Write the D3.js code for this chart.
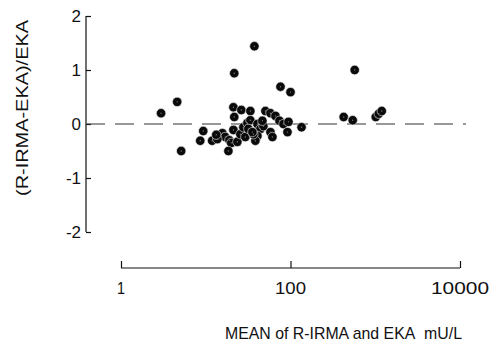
<!DOCTYPE html>
<html>
<head>
<meta charset="utf-8">
<script src="https://cdn.jsdelivr.net/npm/d3@7/dist/d3.min.js"></script>
<style>
  html, body { margin: 0; padding: 0; background: #fff; }
  svg { display: block; }
  text { font-family: "Liberation Sans", Arial, sans-serif; fill: #111; }
</style>
</head>
<body>
<svg id="chart" width="491" height="349"></svg>
<script>
// Mean of the two methods (mU/L)
const meanValues = [
  2.97, 4.60, 5.13, 9.34, 8.61, 11.9, 15.7, 17.0, 19.0, 20.0,
  18.5, 21.7, 21.2, 26.3, 33.6, 21.7, 21.2, 23.6, 25.6, 27.8,
  31.0, 33.6, 29.3, 37.5, 31.8, 40.7, 44.2, 47.9, 40.7, 38.5,
  50.6, 58.0, 66.4, 74.1, 82.6, 94.7, 92.1, 58.0, 61.2, 76.2,
  100, 135, 424, 542, 572, 1014, 1100, 1194, 36.5, 13.7,
  13.3, 46.6, 35.5
];
// Relative difference (R-IRMA - EKA) / EKA
const relDiff = [
  0.20, 0.41, -0.50, -0.13, -0.31, -0.31, -0.17, -0.24, -0.30, -0.35,
  -0.50, 0.94, 0.31, 0.26, 0.24, 0.13, -0.11, -0.33, -0.19, -0.06,
  0.02, 0.07, -0.24, 1.44, -0.09, 0.00, -0.09, -0.04, -0.22, -0.31,
  0.24, 0.20, 0.15, 0.06, 0.00, 0.04, -0.15, -0.15, -0.24, 0.69,
  0.59, -0.06, 0.13, 0.07, 1.00, 0.13, 0.19, 0.24, -0.19, -0.28,
  -0.20, 0.06, -0.15
];
const xTicks = [1, 100, 10000];
const xTickLabels = ["1", "100", "10000"];
const yTicks = [-2, -1, 0, 1, 2];
const yTickLabels = ["-2", "-1", "0", "1", "2"];

const svg = d3.select("#chart");

const x = d3.scaleLog().domain([1, 10000]).range([121, 460]);
const y = d3.scaleLinear().domain([-2, 2]).range([232, 16]);

// Y axis: ticks point inward
const yAxisX = 86;
const yAxis = d3.axisRight(y)
  .tickValues(yTicks)
  .tickSize(5)
  .tickFormat(() => "");
const gy = svg.append("g").attr("transform", `translate(${yAxisX},0)`).call(yAxis);
gy.select(".domain").attr("d", `M0,${y(2)}V${y(-2)}`).attr("stroke", "#111").attr("stroke-width", 1.2);
gy.selectAll(".tick line").attr("stroke", "#111").attr("stroke-width", 1.2);

svg.append("g").selectAll("text")
  .data(yTicks)
  .join("text")
  .attr("x", yAxisX - 5)
  .attr("y", d => y(d))
  .attr("dy", "0.36em")
  .attr("text-anchor", "end")
  .attr("font-size", 17)
  .text((d, i) => yTickLabels[i]);

// X axis: ticks point upward, detached below the plot
const xAxisY = 268;
const xAxis = d3.axisTop(x)
  .tickValues(xTicks)
  .tickSize(7)
  .tickFormat(() => "");
const gx = svg.append("g").attr("transform", `translate(0,${xAxisY})`).call(xAxis);
gx.select(".domain").attr("d", `M${x(1)},0H${x(10000)}`).attr("stroke", "#111").attr("stroke-width", 1.2);
gx.selectAll(".tick line").attr("stroke", "#111").attr("stroke-width", 1.2);

const xLabelWidths = [8, 31, 58];
svg.append("g").selectAll("text")
  .data(xTicks)
  .join("text")
  .attr("x", d => x(d))
  .attr("y", 294)
  .attr("text-anchor", "middle")
  .attr("font-size", 16.5)
  .attr("textLength", (d, i) => xLabelWidths[i])
  .attr("lengthAdjust", "spacingAndGlyphs")
  .text((d, i) => xTickLabels[i]);

// Zero reference line
svg.append("line")
  .attr("x1", yAxisX).attr("x2", 466)
  .attr("y1", y(0)).attr("y2", y(0))
  .attr("stroke", "#333")
  .attr("stroke-width", 1.1)
  .attr("stroke-dasharray", "19,10");

// Points: solid dark discs with a thin light rim
const pts = meanValues.map((m, i) => ({ m, d: relDiff[i] }));
const gp = svg.append("g");
gp.selectAll("circle.pt")
  .data(pts)
  .join("circle")
  .attr("class", "pt")
  .attr("cx", p => x(p.m))
  .attr("cy", p => y(p.d))
  .attr("r", 4.7)
  .attr("fill", "#0a0a0a")
  .attr("stroke", "#eee")
  .attr("stroke-width", 0.6);
gp.selectAll("circle.hl")
  .data(pts)
  .join("circle")
  .attr("class", "hl")
  .attr("cx", p => x(p.m))
  .attr("cy", p => y(p.d))
  .attr("r", 0.7)
  .attr("fill", "#777");

// Axis titles
svg.append("text")
  .attr("transform", "translate(28,108) rotate(-90)")
  .attr("text-anchor", "middle")
  .attr("font-size", 16.5)
  .attr("textLength", 176)
  .attr("lengthAdjust", "spacingAndGlyphs")
  .text("(R-IRMA-EKA)/EKA");

svg.append("text")
  .attr("x", 225)
  .attr("y", 339)
  .attr("font-size", 17)
  .attr("textLength", 237)
  .attr("lengthAdjust", "spacingAndGlyphs")
  .text("MEAN of R-IRMA and EKA\u00a0\u00a0mU/L");
</script>
</body>
</html>
